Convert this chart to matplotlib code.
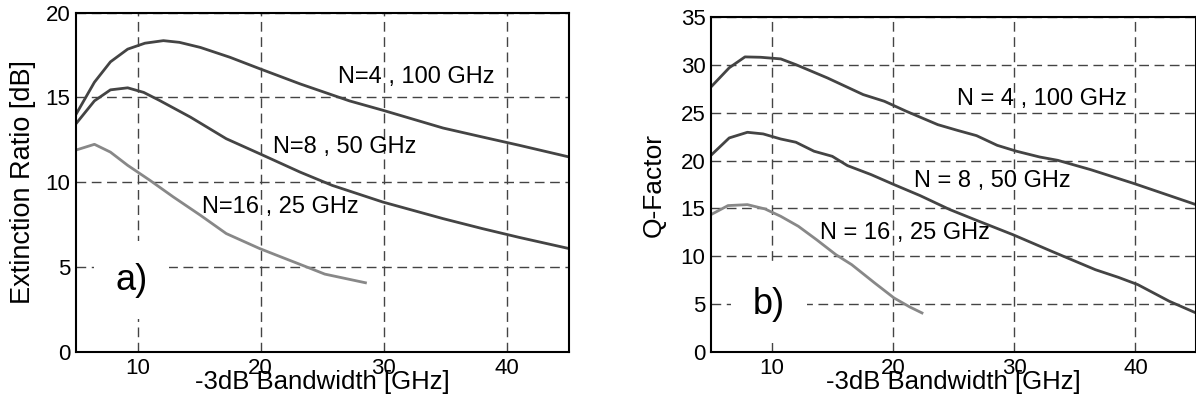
import numpy as np
import matplotlib
matplotlib.use('Agg')
import matplotlib.pyplot as plt

plt.rcParams['font.family'] = ['Liberation Sans', 'DejaVu Sans']
plt.rcParams['font.size'] = 16

# panel a) extinction ratio vs bandwidth
er_n4_x = [5.0, 6.5, 7.8, 9.2, 10.6, 12.1, 13.4, 15.1, 17.5, 19.9, 23.2, 27.2, 29.9, 34.8, 38.0, 41.0, 45.0]
er_n4_y = [14.0, 15.9, 17.1, 17.85, 18.2, 18.35, 18.25, 17.95, 17.37, 16.7, 15.8, 14.8, 14.25, 13.2, 12.67, 12.18, 11.5]
er_n8_x = [5.0, 6.5, 7.8, 9.2, 10.5, 11.8, 14.3, 17.2, 19.9, 23.2, 25.8, 29.9, 34.8, 38.0, 41.0, 45.0]
er_n8_y = [13.45, 14.8, 15.45, 15.57, 15.3, 14.82, 13.84, 12.57, 11.69, 10.6, 9.82, 8.84, 7.86, 7.27, 6.75, 6.1]
er_n16_x = [5.0, 6.5, 7.8, 9.2, 11.0, 12.9, 15.1, 17.2, 19.9, 21.3, 23.7, 25.2, 28.5]
er_n16_y = [11.9, 12.24, 11.78, 11.0, 10.12, 9.14, 8.06, 6.98, 6.1, 5.7, 5.02, 4.59, 4.08]

# panel b) Q-factor vs bandwidth
q_n4_x = [5.0, 6.5, 7.8, 9.1, 10.75, 12.0, 14.6, 17.55, 19.3, 21.1, 23.7, 25.3, 26.9, 28.6, 30.2, 32.1, 33.6, 36.3, 39.9, 45.0]
q_n4_y = [27.7, 29.7, 30.84, 30.8, 30.63, 30.03, 28.64, 26.9, 26.2, 25.16, 23.76, 23.17, 22.61, 21.6, 20.98, 20.38, 20.03, 19.06, 17.6, 15.4]
q_n8_x = [5.0, 6.5, 8.0, 9.3, 10.75, 12.0, 13.5, 15.0, 16.25, 18.2, 20.1, 22.25, 24.7, 26.9, 29.9, 33.1, 36.7, 38.6, 40.2, 42.8, 45.0]
q_n8_y = [20.56, 22.37, 22.96, 22.79, 22.26, 21.92, 20.98, 20.45, 19.48, 18.54, 17.49, 16.34, 14.88, 13.76, 12.26, 10.52, 8.6, 7.8, 7.04, 5.3, 4.08]
q_n16_x = [5.0, 6.4, 8.0, 9.45, 10.75, 12.2, 13.7, 15.3, 16.6, 18.5, 20.1, 21.4, 22.4]
q_n16_y = [14.36, 15.3, 15.4, 14.95, 14.18, 13.14, 11.74, 10.17, 9.13, 7.21, 5.64, 4.7, 4.08]

dark = '#444444'
light = '#888888'

fig = plt.figure(figsize=(11.96, 4.03), dpi=100)
ax1 = fig.add_axes([0.0635, 0.1266, 0.412, 0.842])
ax2 = fig.add_axes([0.5945, 0.1266, 0.4055, 0.831])


def style(ax, ymax, ystep):
    ax.set_xlim(5, 45)
    ax.set_ylim(0, ymax)
    ax.set_xticks([10, 20, 30, 40])
    ax.set_yticks(np.arange(0, ymax + 1, ystep))
    ax.grid(True, color='#444444', linestyle=(0, (7, 4)), linewidth=1.0)
    ax.tick_params(direction='in', length=0, pad=4)
    for s in ax.spines.values():
        s.set_linewidth(1.5)
    ax.set_xlabel('-3dB Bandwidth [GHz]', fontsize=18.5, labelpad=-6)


ax1.plot(er_n4_x, er_n4_y, color=dark, lw=2)
ax1.plot(er_n8_x, er_n8_y, color=dark, lw=2)
ax1.plot(er_n16_x, er_n16_y, color=light, lw=2)
style(ax1, 20, 5)
ax1.set_ylabel('Extinction Ratio [dB]', fontsize=19.5, labelpad=7)
ax1.text(26.3, 16.2, 'N=4 , 100 GHz', fontsize=17, va='center')
ax1.text(21.0, 12.1, 'N=8 , 50 GHz', fontsize=17, va='center')
ax1.text(15.2, 8.55, 'N=16 , 25 GHz', fontsize=17, va='center')
ax1.text(9.5, 4.24, 'a)', fontsize=26, ha='center', va='center',
         bbox=dict(facecolor='white', edgecolor='none', boxstyle='square,pad=0.6'))

ax2.plot(q_n4_x, q_n4_y, color=dark, lw=2)
ax2.plot(q_n8_x, q_n8_y, color=dark, lw=2)
ax2.plot(q_n16_x, q_n16_y, color=light, lw=2)
style(ax2, 35, 5)
ax2.set_ylabel('Q-Factor', fontsize=19, labelpad=11)
ax2.text(25.3, 26.4, 'N = 4 , 100 GHz', fontsize=17, va='center')
ax2.text(21.7, 17.9, 'N = 8 , 50 GHz', fontsize=17, va='center')
ax2.text(13.98, 12.44, 'N = 16 , 25 GHz', fontsize=17, va='center')
ax2.text(9.8, 5.0, 'b)', fontsize=26, ha='center', va='center',
         bbox=dict(facecolor='white', edgecolor='none', boxstyle='square,pad=0.6'))

fig.savefig('out.png', dpi=100)
